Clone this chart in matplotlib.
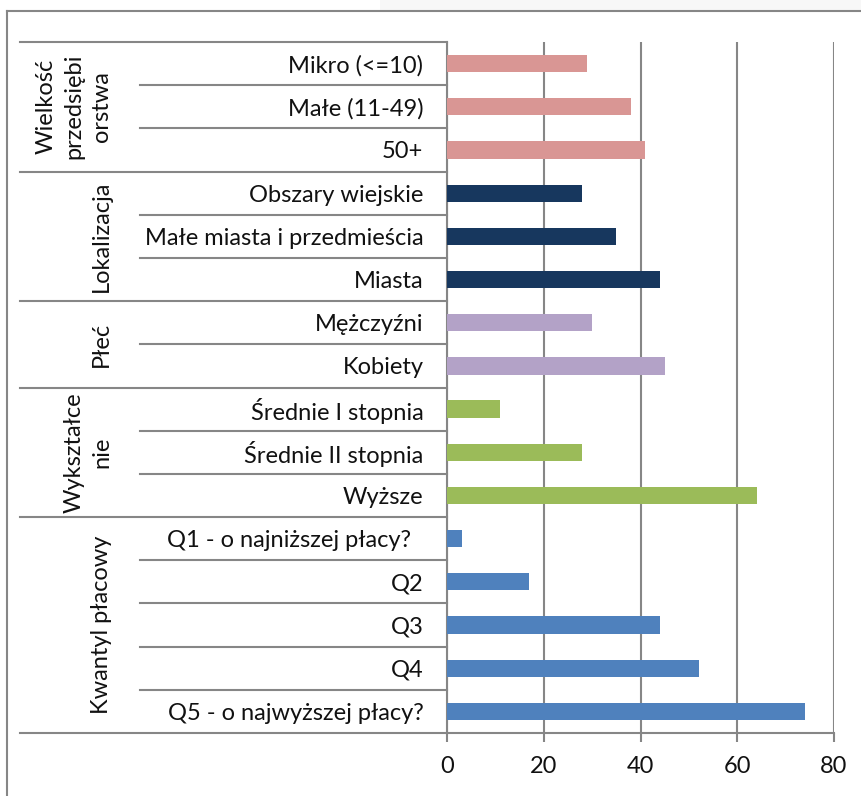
import matplotlib.pyplot as plt
from matplotlib.transforms import blended_transform_factory
from matplotlib.lines import Line2D
from matplotlib.patches import Rectangle

plt.rcParams['font.family'] = ['Lato', 'DejaVu Sans']

categories = ['Mikro (<=10)', 'Małe (11-49)', '50+',
              'Obszary wiejskie', 'Małe miasta i przedmieścia', 'Miasta',
              'Mężczyźni', 'Kobiety',
              'Średnie I stopnia', 'Średnie II stopnia', 'Wyższe',
              'Q1 - o najniższej płacy?  ', 'Q2', 'Q3', 'Q4', 'Q5 - o najwyższej płacy?']
values = [29, 38, 41,
          28, 35, 44,
          30, 45,
          11, 28, 64,
          3, 17, 44, 52, 74]
groups = ['Wielkość\nprzedsiębi\norstwa', 'Lokalizacja', 'Płeć', 'Wykształce\nnie', 'Kwantyl płacowy']
group_sizes = [3, 3, 2, 3, 5]
group_colors = ['#D99694', '#17375E', '#B3A2C7', '#9BBB59', '#4F81BD']

W, H = 861, 796
grey = '#868686'
ink = '#111111'
fs = 17
fig = plt.figure(figsize=(W / 100, H / 100), dpi=100)
ax = fig.add_axes([447 / W, 1 - 733 / H, (834 - 447) / W, (733 - 42) / H])

colors = []
for c, n in zip(group_colors, group_sizes):
    colors += [c] * n
pos = list(range(len(categories)))
ax.barh(pos, values, height=0.4, color=colors, zorder=3)

ax.set_xlim(0, 80)
ax.set_ylim(len(categories) - 0.5, -0.5)
ax.set_xticks([0, 20, 40, 60, 80])
ax.set_yticks(pos)
ax.set_yticklabels(categories, fontsize=fs, color=ink)
ax.tick_params(axis='y', length=0, pad=17)
ax.tick_params(axis='x', length=6.5, width=1.5, color=grey, direction='out',
               labelsize=fs, pad=10, labelcolor=ink)
ax.grid(axis='x', color=grey, linewidth=1.5, zorder=1)
for s in ['top', 'right']:
    ax.spines[s].set_visible(False)
for s in ['left', 'bottom']:
    ax.spines[s].set_color(grey)
    ax.spines[s].set_linewidth(1.5)

# category separators of the two-level axis
tr = blended_transform_factory(fig.transFigure, ax.transData)
starts = []
k = 0
for n in group_sizes:
    starts.append(k)
    k += n
for b in range(len(categories) + 1):
    x0 = 20 / W if (b in starts or b == len(categories)) else 140 / W
    fig.add_artist(Line2D([x0, 447 / W], [b - 0.5, b - 0.5], transform=tr,
                          color=grey, linewidth=1.5))

# group labels
for name, s, n in zip(groups, starts, group_sizes):
    fig.text(112 / W, s + (n - 1) / 2, name, transform=tr, rotation=90,
             ha='right', va='center', multialignment='center',
             fontsize=fs, linespacing=1.4, color=ink)

# outer chart frame
fig.add_artist(Rectangle((380 / W, 1 - 10 / H), 1, 10 / H, transform=fig.transFigure,
                         color='#f7f7f7', linewidth=0))
fig.add_artist(Line2D([7 / W, 1], [1 - 11 / H, 1 - 11 / H], transform=fig.transFigure,
                      color=grey, linewidth=1.5))
fig.add_artist(Line2D([7 / W, 7 / W], [1 - 11 / H, 0], transform=fig.transFigure,
                      color=grey, linewidth=1.5))

fig.savefig('out.png', dpi=100)
